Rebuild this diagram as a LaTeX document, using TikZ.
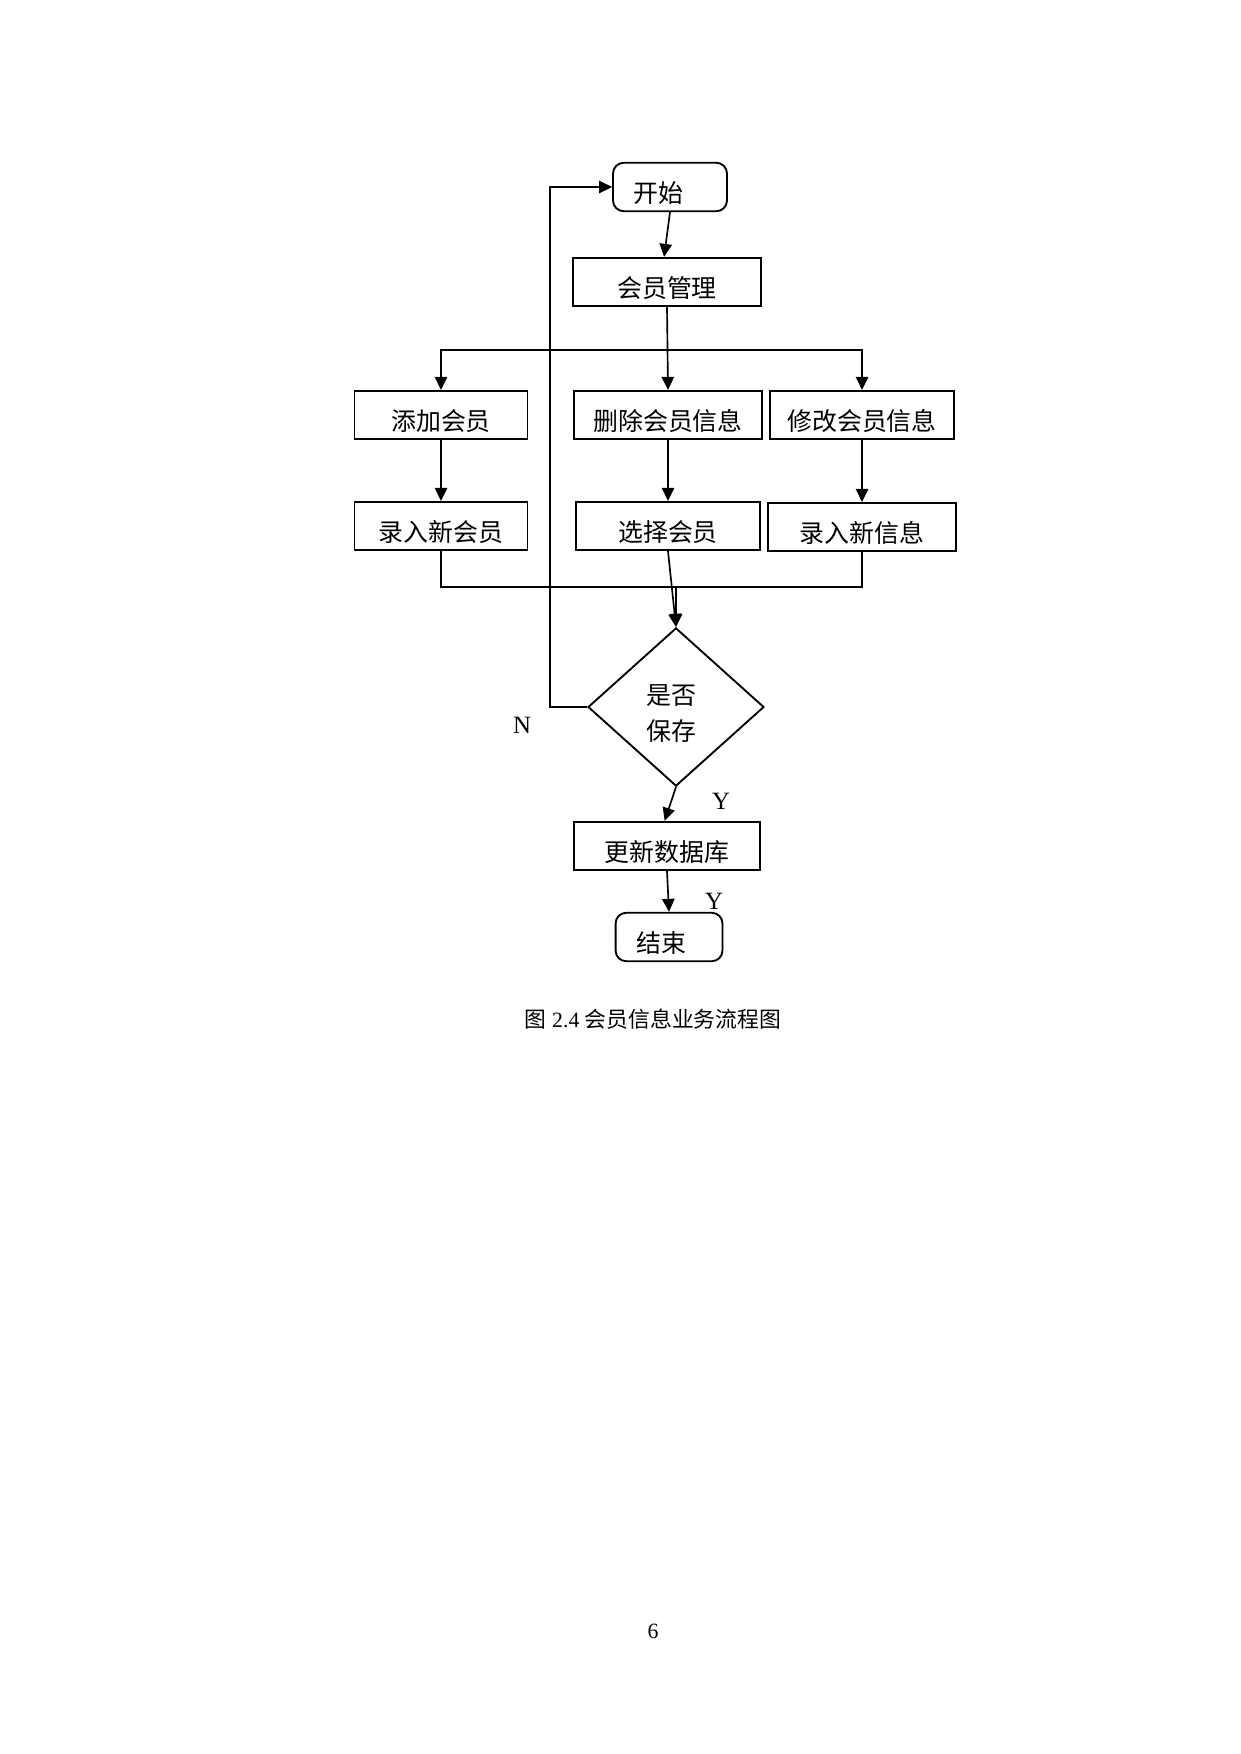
\documentclass[tikz,border=0pt]{standalone}
\usepackage{fontspec}
\setmainfont{Liberation Serif}
\newfontfamily\cjk{Noto Sans CJK SC}
\usetikzlibrary{arrows.meta,shapes.geometric}
\tikzset{
  flowbox/.style={draw, line width=0.9pt, inner sep=0pt, minimum height=8.2mm,
    text height=14.5pt, text depth=0pt,
    font=\cjk\fontsize{12}{14}\selectfont},
  termbox/.style={flowbox, rounded corners=1.8mm},
  decide/.style={draw, line width=0.9pt, diamond, inner sep=0pt, aspect=1.11,
    minimum width=29.8mm, minimum height=26.8mm},
  decidetext/.style={align=center, inner sep=0pt, xshift=-0.8mm, yshift=-3pt,
    font=\cjk\fontsize{12}{17.3}\selectfont},
  yn/.style={font=\fontsize{12}{14}\selectfont}
}
\begin{document}
\begin{tikzpicture}[x=0.016933cm, y=-0.016933cm, >={Triangle[length=2.2mm,width=2.1mm]}, line width=0.8pt]
\useasboundingbox (0,0) rectangle (1240,1754);

\node[termbox, minimum width=19.3mm] (start) at (670,187) {开始\hspace*{3.8mm}};
\node[flowbox, minimum width=31.8mm] (mgmt) at (667,282) {会员管理};

\node[flowbox, minimum width=29.3mm] (add) at (441,415) {添加会员};
\node[flowbox, minimum width=31.8mm] (del) at (668,415) {删除会员信息};
\node[flowbox, minimum width=31.3mm] (mod) at (862,415) {修改会员信息};

\node[flowbox, minimum width=29.3mm] (newmem) at (441,526) {录入新会员};
\node[flowbox, minimum width=31.3mm] (pick) at (668,526) {选择会员};
\node[flowbox, minimum width=31.7mm] (newinfo) at (862,527) {录入新信息};

\node[decide, label={[decidetext]center:{是否\\保存}}] (save) at (676,707) {};

\node[flowbox, minimum width=31.5mm] (upd) at (667,846) {更新数据库};
\node[termbox, minimum width=18.1mm] (stop) at (669,937) {结束\hspace*{2.7mm}};

\coordinate (fork) at (668,350);
\coordinate (merge) at (676,587);
\coordinate (back) at (550,187);

%arrows
\draw[->] (start.south) -- ([xshift=-0.5mm]mgmt.north);
\draw[->] (mgmt.south) -- (del.north);
\draw[->] (fork) -| (add.north);
\draw[->] (fork) -| (mod.north);
\draw[->] (add.south) -- (newmem.north);
\draw[->] (del.south) -- (pick.north);
\draw[->] (mod.south) -- (newinfo.north);
\draw (newmem.south) |- (merge) -| (newinfo.south);
\draw[->] (merge) -- (save.north);
\draw[->] (pick.south) -- (save.north);
\draw[->] (save.west) -| (back) -- (start.west);
\draw[->] (save.south) -- ([xshift=-0.4mm]upd.north);
\draw[->] (upd.south) -- (stop.north);

%labels
\node[yn] (no) at (522,725) {N};
\node[yn] (yes) at (721,801) {Y};
\node[yn] (yes2) at (714,901) {Y};

\node[font=\fontsize{10.5}{12}\selectfont] (cap) at (653,1019) {{\cjk 图} 2.4 {\cjk 会员信息业务流程图}};
\node[font=\fontsize{10.5}{12}\selectfont] (pageno) at (653,1631) {6};

\end{tikzpicture}
\end{document}
